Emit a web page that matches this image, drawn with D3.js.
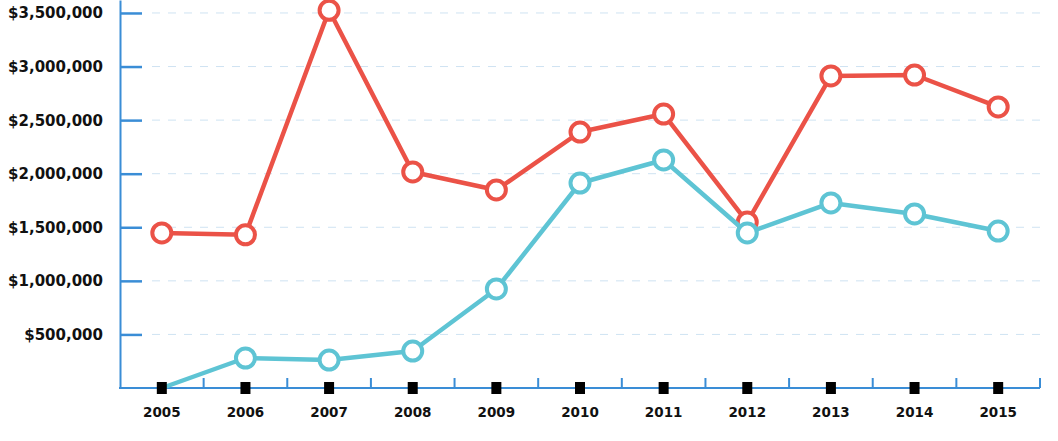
<!DOCTYPE html>
<html>
<head>
<meta charset="utf-8">
<script src="https://cdn.jsdelivr.net/npm/d3@7"></script>
<style>
  body { margin: 0; background: #fff; }
  svg text { font-family: "DejaVu Sans", Verdana, sans-serif; font-weight: bold; fill: #111; }
</style>
</head>
<body>
<svg id="chart" width="1058" height="441"></svg>
<script>
// data
const years = ["2005", "2006", "2007", "2008", "2009", "2010", "2011", "2012", "2013", "2014", "2015"];
const redValues = [1447000, 1430000, 3525000, 2016000, 1848000, 2389000, 2557000, 1549000, 2912000, 2921000, 2623000];
const blueValues = [0, 280000, 261000, 345000, 924000, 1913000, 2128000, 1447000, 1727000, 1624000, 1465000];
const yTicks = [500000, 1000000, 1500000, 2000000, 2500000, 3000000, 3500000];

const margin = {top: 0, right: 18, bottom: 53, left: 120};
const width = 1058, height = 441;
const svg = d3.select("#chart");

const x = d3.scaleBand()
    .domain(years)
    .range([margin.left, width - margin.right]);

const y = d3.scaleLinear()
    .domain([0, 3621000])
    .range([height - margin.bottom, margin.top]);

const axisColor = "#3a8dd6";

// gridlines
svg.append("g")
    .selectAll("line")
    .data(yTicks)
    .join("line")
    .attr("x1", margin.left + 32)
    .attr("x2", width - margin.right)
    .attr("y1", d => y(d))
    .attr("y2", d => y(d))
    .attr("stroke", "#cfe3f2")
    .attr("stroke-width", 1)
    .attr("stroke-dasharray", "8,8");

// y axis, ticks pointing inward
const yAxis = svg.append("g")
    .attr("transform", `translate(${margin.left},0)`)
    .call(d3.axisRight(y).tickValues(yTicks).tickSize(22).tickSizeOuter(0).tickFormat(""));
yAxis.select(".domain").attr("stroke", axisColor).attr("stroke-width", 2);
yAxis.selectAll(".tick line").attr("stroke", axisColor).attr("stroke-width", 2.5);

svg.append("g")
    .selectAll("text")
    .data(yTicks)
    .join("text")
    .attr("x", margin.left - 17)
    .attr("y", d => y(d))
    .attr("dy", "0.36em")
    .attr("text-anchor", "end")
    .style("font-size", "15px")
    .text(d => "$" + d3.format(",")(d));

// x axis, ticks at band edges pointing up
const xBase = y(0);
const xAxis = svg.append("g")
    .attr("transform", `translate(0,${xBase})`);
xAxis.append("line")
    .attr("x1", margin.left - 1)
    .attr("x2", width - margin.right)
    .attr("stroke", axisColor)
    .attr("stroke-width", 2);
xAxis.selectAll(".edge")
    .data(years.slice(1).concat(["end"]))
    .join("line")
    .attr("class", "edge")
    .attr("x1", (d, i) => i < years.length - 1 ? x(d) : x.range()[1])
    .attr("x2", (d, i) => i < years.length - 1 ? x(d) : x.range()[1])
    .attr("y1", 0)
    .attr("y2", -10)
    .attr("stroke", axisColor)
    .attr("stroke-width", 2);

xAxis.selectAll("text")
    .data(years)
    .join("text")
    .attr("x", d => x(d) + x.bandwidth() / 2)
    .attr("y", 29)
    .attr("text-anchor", "middle")
    .style("font-size", "13.5px")
    .text(d => d);

const cx = d => x(d) + x.bandwidth() / 2;
const line = d3.line()
    .x(d => cx(d.year))
    .y(d => y(d.value));

const series = [
    {name: "red", color: "#eb5247", values: redValues},
    {name: "blue", color: "#5ec4d4", values: blueValues}
];

series.forEach(s => {
    const pts = years.map((yr, i) => ({year: yr, value: s.values[i]}));
    const g = svg.append("g");
    g.append("path")
        .datum(pts)
        .attr("fill", "none")
        .attr("stroke", s.color)
        .attr("stroke-width", 4.5)
        .attr("stroke-linejoin", "round")
        .attr("d", line);
    g.selectAll("circle")
        .data(pts.filter(p => p.value > 0))
        .join("circle")
        .attr("cx", d => cx(d.year))
        .attr("cy", d => y(d.value))
        .attr("r", 9.5)
        .attr("fill", "#fff")
        .attr("stroke", s.color)
        .attr("stroke-width", 4);
});

// black square markers on the x axis
svg.append("g")
    .selectAll("rect")
    .data(years)
    .join("rect")
    .attr("x", d => cx(d) - 5)
    .attr("y", xBase - 6)
    .attr("width", 10)
    .attr("height", 12)
    .attr("fill", "#000");
</script>
</body>
</html>
